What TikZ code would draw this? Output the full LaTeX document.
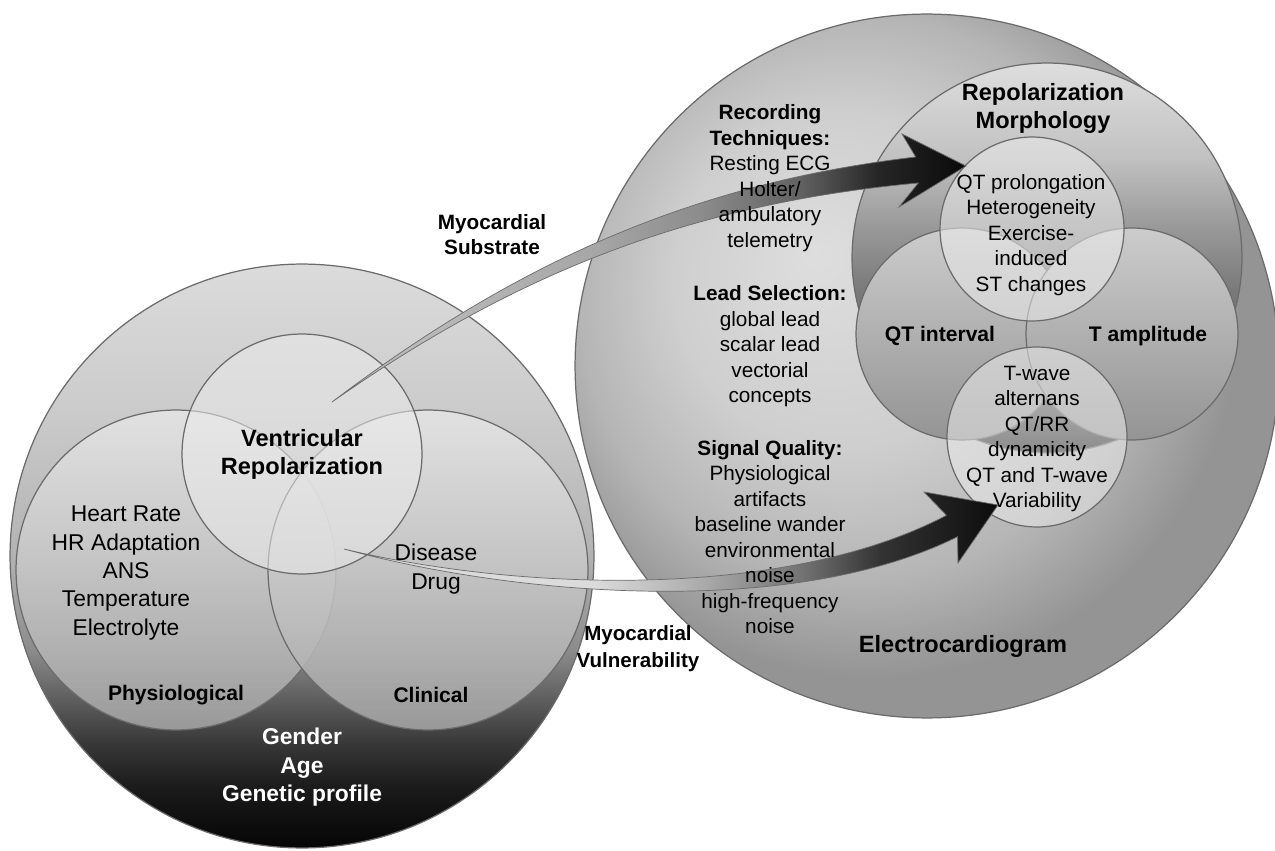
\documentclass[tikz,border=0pt]{standalone}
\usepackage{fontspec}
\setmainfont{Liberation Sans}

% grey levels
\definecolor{rim}{gray}{0.42}
\definecolor{lA}{gray}{0.02}\definecolor{lB}{gray}{0.10}\definecolor{lC}{gray}{0.22}
\definecolor{lD}{gray}{0.38}\definecolor{lE}{gray}{0.55}\definecolor{lF}{gray}{0.70}
\definecolor{lG}{gray}{0.80}\definecolor{lH}{gray}{0.86}
\definecolor{eA}{gray}{0.87}\definecolor{eB}{gray}{0.81}\definecolor{eC}{gray}{0.71}
\definecolor{eD}{gray}{0.58}
\definecolor{rA}{gray}{0.10}\definecolor{rB}{gray}{0.30}\definecolor{rC}{gray}{0.42}
\definecolor{rD}{gray}{0.48}\definecolor{rE}{gray}{0.60}\definecolor{rF}{gray}{0.76}
\definecolor{rG}{gray}{0.87}
\definecolor{sA}{gray}{0.72}\definecolor{sB}{gray}{0.65}\definecolor{sC}{gray}{0.55}
\definecolor{sD}{gray}{0.38}\definecolor{sE}{gray}{0.15}\definecolor{sF}{gray}{0.04}
\definecolor{vA}{gray}{0.86}\definecolor{vB}{gray}{0.68}\definecolor{vC}{gray}{0.45}
\definecolor{vD}{gray}{0.20}\definecolor{vE}{gray}{0.05}
\definecolor{qA}{gray}{0.80}\definecolor{qB}{gray}{0.58}
\definecolor{pA}{gray}{0.90}\definecolor{pB}{gray}{0.66}
\definecolor{wA}{gray}{0.92}

\pgfdeclareverticalshading{leftshade}{100bp}{color(0bp)=(lA); color(25bp)=(lA); color(30bp)=(lB); color(34bp)=(lC); color(38bp)=(lD); color(42bp)=(lE); color(50bp)=(lF); color(63bp)=(lG); color(75bp)=(lH); color(100bp)=(lH)}
\pgfdeclareradialshading{ecgshade}{\pgfpoint{-8bp}{8bp}}{color(0bp)=(eA); color(12bp)=(eB); color(20bp)=(eC); color(26bp)=(eD); color(50bp)=(eD)}
\pgfdeclareverticalshading{repshade}{100bp}{color(0bp)=(rA); color(25bp)=(rA); color(30bp)=(rB); color(38bp)=(rC); color(46bp)=(rD); color(54bp)=(rE); color(63bp)=(rF); color(75bp)=(rG); color(100bp)=(rG)}
\pgfdeclarehorizontalshading{subshade}{100bp}{color(0bp)=(sA); color(34bp)=(sA); color(46bp)=(sB); color(54bp)=(sC); color(62bp)=(sD); color(68bp)=(sE); color(75bp)=(sF); color(100bp)=(sF)}
\pgfdeclarehorizontalshading{vulshade}{100bp}{color(0bp)=(vA); color(44bp)=(vA); color(52bp)=(vB); color(60bp)=(vC); color(66bp)=(vD); color(75bp)=(vE); color(100bp)=(vE)}

\tikzset{
  sphere/.style={circle, draw=rim, line width=0.7pt, inner sep=0pt},
  pale/.style={sphere, fill=#1, fill opacity=0.55},
  txt/.style={align=center, inner sep=0pt, font=\fontsize{11.8}{14.5}\selectfont},
  bigtxt/.style={align=center, inner sep=0pt, font=\fontsize{13}{16.2}\selectfont},
  hd/.style={align=center, inner sep=0pt, font=\bfseries\fontsize{13.4}{16.4}\selectfont},
  lbl/.style={align=center, inner sep=0pt, font=\bfseries\fontsize{12}{14.4}\selectfont},
  subhd/.style={align=center, inner sep=0pt, font=\bfseries\fontsize{11.8}{14.2}\selectfont}
}

\begin{document}
\begin{tikzpicture}[x=0.02cm, y=-0.02cm]
\path[use as bounding box, fill=white] (0,0) rectangle (1275,851);

% left sphere
\node[sphere, shading=leftshade, minimum size=11.68cm] (leftball) at (302,556) {};
\node[sphere, top color=pA, bottom color=pB, fill opacity=0.85, minimum size=6.4cm] (physio) at (176,570) {};
\node[sphere, top color=pA, bottom color=pB, fill opacity=0.85, minimum size=6.4cm] (clinic) at (428,570) {};
\node[pale=wA, minimum size=4.8cm] (ventric) at (302,454) {};

% right sphere
\node[sphere, shading=ecgshade, minimum size=14.08cm] (ecgball) at (927,366) {};
\node[sphere, shading=repshade, minimum size=7.8cm] (repmorph) at (1047,258) {};
\node[sphere, top color=qA, bottom color=qB, minimum size=4.24cm] (qtint) at (962,334) {};
\node[sphere, top color=qA, bottom color=qB, minimum size=4.24cm] (tamp) at (1132,334) {};
\node[pale=wA, minimum size=3.68cm] (qtprol) at (1032,229) {};
\node[pale=wA, minimum size=3.6cm] (twave) at (1037,437) {};

% arrows
\coordinate (subtail) at (332,402);
\coordinate (subtip) at (966,166);
\shadedraw[shading=subshade, draw=rim, line width=0.4pt] (subtail) .. controls (509.6,267.8) and (686,184) .. (915.7,157) -- (902,134) -- (subtip) -- (899,207) -- (918.3,183) .. controls (688,204) and (514.4,274.2) .. (subtail) -- cycle;
\coordinate (vultail) at (344,549);
\coordinate (vultip) at (998,505);
\shadedraw[shading=vulshade, draw=rim, line width=0.4pt] (vultail) .. controls (524.7,592.1) and (787.4,599.1) .. (946.5,515.3) -- (924,492) -- (vultip) -- (958,563) -- (957.5,536.7) .. controls (796.6,616.9) and (523.3,597.9) .. (vultail) -- cycle;

% left texts
\node[hd] (ventxt) at (302,454.5) {Ventricular\\Repolarization};
\node[bigtxt] (physlist) at (126,573) {Heart Rate\\HR Adaptation\\ANS\\Temperature\\Electrolyte};
\node[bigtxt] (clinlist) at (436,569) {Disease\\Drug};
\node[lbl] (physlbl) at (176,695) {Physiological};
\node[lbl] (cliniclbl) at (431,695) {Clinical};
\node[hd, text=white, font=\bfseries\fontsize{13}{16.2}\selectfont] (fixedlist) at (302,767.5) {Gender\\Age\\Genetic profile};
\node[subhd] (substrate) at (492,234.5) {Myocardial\\Substrate};
\node[subhd, font=\bfseries\fontsize{11.7}{15.3}\selectfont] (vulner) at (638,648.5) {Myocardial\\Vulnerability};

% right texts
\node[hd] (reptitle) at (1043,108.5) {Repolarization\\Morphology};
\node[txt] (qtlist) at (1031,235) {QT prolongation\\Heterogeneity\\Exercise-\\induced\\ST changes};
\node[txt] (twlist) at (1037,439) {T-wave\\alternans\\QT/RR\\dynamicity\\QT and T-wave\\Variability};
\node[lbl] (qtlbl) at (940,336) {QT interval};
\node[lbl] (tamplbl) at (1148,336) {T amplitude};
\node[hd] (ecglbl) at (963,646) {Electrocardiogram};
\node[txt] (reccol) at (770,178) {\textbf{Recording}\\\textbf{Techniques:}\\Resting ECG\\Holter/\\ambulatory\\telemetry};
\node[txt] (leadcol) at (770,346.5) {\textbf{Lead Selection:}\\global lead\\scalar lead\\vectorial\\concepts};
\node[txt] (sigcol) at (770,537) {\textbf{Signal Quality:}\\Physiological\\artifacts\\baseline wander\\environmental\\noise\\high-frequency\\noise};
\end{tikzpicture}
\end{document}
